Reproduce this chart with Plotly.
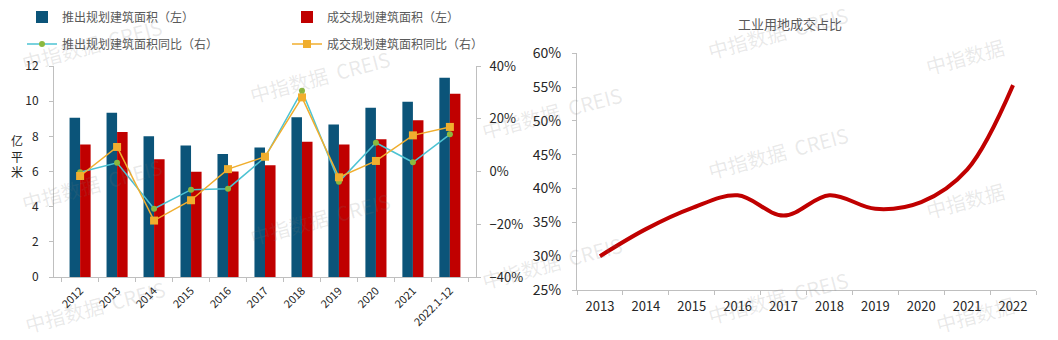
import plotly.graph_objects as go

W, H = 1058, 340

# ---------------- data ----------------
years_left = ["2012", "2013", "2014", "2015", "2016", "2017", "2018", "2019", "2020", "2021", "2022.1-12"]
launched_area = [9.05, 9.34, 8.01, 7.48, 6.99, 7.37, 9.08, 8.68, 9.62, 9.97, 11.33]
sold_area = [7.54, 8.24, 6.70, 5.98, 6.00, 6.36, 7.69, 7.54, 7.84, 8.92, 10.42]
launched_yoy = [-0.003, 0.033, -0.141, -0.069, -0.065, 0.054, 0.306, -0.039, 0.109, 0.035, 0.141]
sold_yoy = [-0.017, 0.093, -0.186, -0.109, 0.009, 0.056, 0.281, -0.022, 0.040, 0.137, 0.169]

years_right = ["2013", "2014", "2015", "2016", "2017", "2018", "2019", "2020", "2021", "2022"]
industrial_share = [0.30, 0.34, 0.371, 0.39, 0.36, 0.39, 0.37, 0.38, 0.428, 0.553]

left_ticks = [0, 2, 4, 6, 8, 10, 12]
right_ticks = [-0.4, -0.2, 0, 0.2, 0.4]
share_ticks = [0.25, 0.30, 0.35, 0.40, 0.45, 0.50, 0.55, 0.60]

# ---------------- style ----------------
FONT = "Noto Sans CJK SC, Noto Sans, sans-serif"
BLUE = "#0B5479"
RED = "#C00000"
CYAN = "#4DC3D3"
GREEN = "#8BB83F"
ORANGE = "#F0AE2E"
AXIS = "#BFBFBF"
TXT = "#262626"
GRAY = "#595959"


def px_x(p):
    return p / W


def px_y(p):
    return 1 - p / H


fig = go.Figure()

fig.add_trace(go.Bar(x=years_left, y=launched_area, name="推出规划建筑面积（左）",
                     marker=dict(color=BLUE, line=dict(width=0)),
                     xaxis="x", yaxis="y", legend="legend"))
fig.add_trace(go.Bar(x=years_left, y=sold_area, name="成交规划建筑面积（左）",
                     marker=dict(color=RED, line=dict(width=0)),
                     xaxis="x", yaxis="y", legend="legend2"))
fig.add_trace(go.Scatter(x=years_left, y=launched_yoy, name="推出规划建筑面积同比（右）",
                         mode="lines+markers",
                         line=dict(color=CYAN, width=1.5),
                         marker=dict(color=GREEN, size=6, symbol="circle"),
                         xaxis="x", yaxis="y2", legend="legend3"))
fig.add_trace(go.Scatter(x=years_left, y=sold_yoy, name="成交规划建筑面积同比（右）",
                         mode="lines+markers",
                         line=dict(color=ORANGE, width=1.5),
                         marker=dict(color=ORANGE, size=8, symbol="square"),
                         xaxis="x", yaxis="y2", legend="legend4"))

fig.add_trace(go.Scatter(x=years_right, y=industrial_share, mode="lines",
                         line=dict(color=RED, width=4, shape="spline", smoothing=1.0),
                         showlegend=False, xaxis="x3", yaxis="y3"))

axis_common = dict(showgrid=False, zeroline=False, showline=True, linecolor=AXIS, linewidth=1,
                   ticks="outside", ticklen=4, tickcolor=AXIS, automargin=False)

legend_common = dict(orientation="v", xanchor="left", yanchor="middle",
                     bgcolor="rgba(0,0,0,0)", font=dict(family=FONT, size=12, color=GRAY),
                     itemclick=False)

fig.update_layout(
    width=W, height=H,
    margin=dict(l=0, r=0, t=0, b=0, autoexpand=False),
    paper_bgcolor="white", plot_bgcolor="white",
    font=dict(family=FONT, color=TXT),
    barmode="group", bargap=0.43, bargroupgap=0.0,
    xaxis=dict(domain=[px_x(54), px_x(476)], type="category", tickson="boundaries",
               tickangle=-45, tickfont=dict(size=11, color=TXT), anchor="y",
               ticklabelstandoff=2, **axis_common),
    yaxis=dict(domain=[px_y(277), px_y(66)], range=[0, 12], tickvals=left_ticks,
               tickfont=dict(size=12, color=TXT), anchor="x", ticklabelstandoff=8, **axis_common),
    yaxis2=dict(overlaying="y", side="right", anchor="x", range=[-0.4, 0.4], tickvals=right_ticks,
                tickformat=".0%", tickfont=dict(size=13, color=TXT), ticklabelstandoff=6, **axis_common),
    xaxis3=dict(domain=[px_x(577), px_x(1036)], type="category", tickson="boundaries", anchor="y3",
                range=[-0.5, 9.5],
                tickfont=dict(size=13, color=TXT), ticklabelstandoff=4, **axis_common),
    yaxis3=dict(domain=[px_y(290), px_y(53.3)], range=[0.25, 0.60], tickvals=share_ticks,
                tickformat=".0%", tickfont=dict(size=14, color=TXT), anchor="x3",
                ticklabelstandoff=8, **axis_common),
    legend=dict(x=px_x(22), y=px_y(17), **legend_common),
    legend2=dict(x=px_x(287), y=px_y(17), **legend_common),
    legend3=dict(x=px_x(22), y=px_y(44), **legend_common),
    legend4=dict(x=px_x(287), y=px_y(44), **legend_common),
)

annotations = []
# y-axis unit title
annotations.append(dict(text="亿<br>平<br>米", x=px_x(17), y=px_y(156), xref="paper", yref="paper",
                        showarrow=False, font=dict(family=FONT, size=12, color=TXT),
                        xanchor="center", yanchor="middle"))
# right chart title
annotations.append(dict(text="工业用地成交占比", x=px_x(790), y=px_y(24), xref="paper", yref="paper",
                        showarrow=False, font=dict(family=FONT, size=13, color=GRAY),
                        xanchor="center", yanchor="middle"))

# watermarks
wm_full = "中指数据  CREIS"
wm_short = "中指数据"
wm_positions = [
    (92, 45, wm_full), (92, 185, wm_full), (95, 306, wm_full),
    (320, 77, wm_full), (320, 218, wm_full),
    (552, 113, wm_full), (552, 262, wm_full),
    (778, 33, wm_full), (778, 152, wm_full), (778, 297, wm_full),
    (965, 57, wm_short), (965, 200, wm_short), (975, 314, wm_short),
]
for (wx, wy, t) in wm_positions:
    annotations.append(dict(text=t, x=px_x(wx), y=px_y(wy), xref="paper", yref="paper",
                            showarrow=False, textangle=-15,
                            font=dict(family=FONT, size=20, color="rgba(120,120,120,0.16)"),
                            xanchor="center", yanchor="middle"))

fig.update_layout(annotations=annotations)

fig.write_html("out.html")
